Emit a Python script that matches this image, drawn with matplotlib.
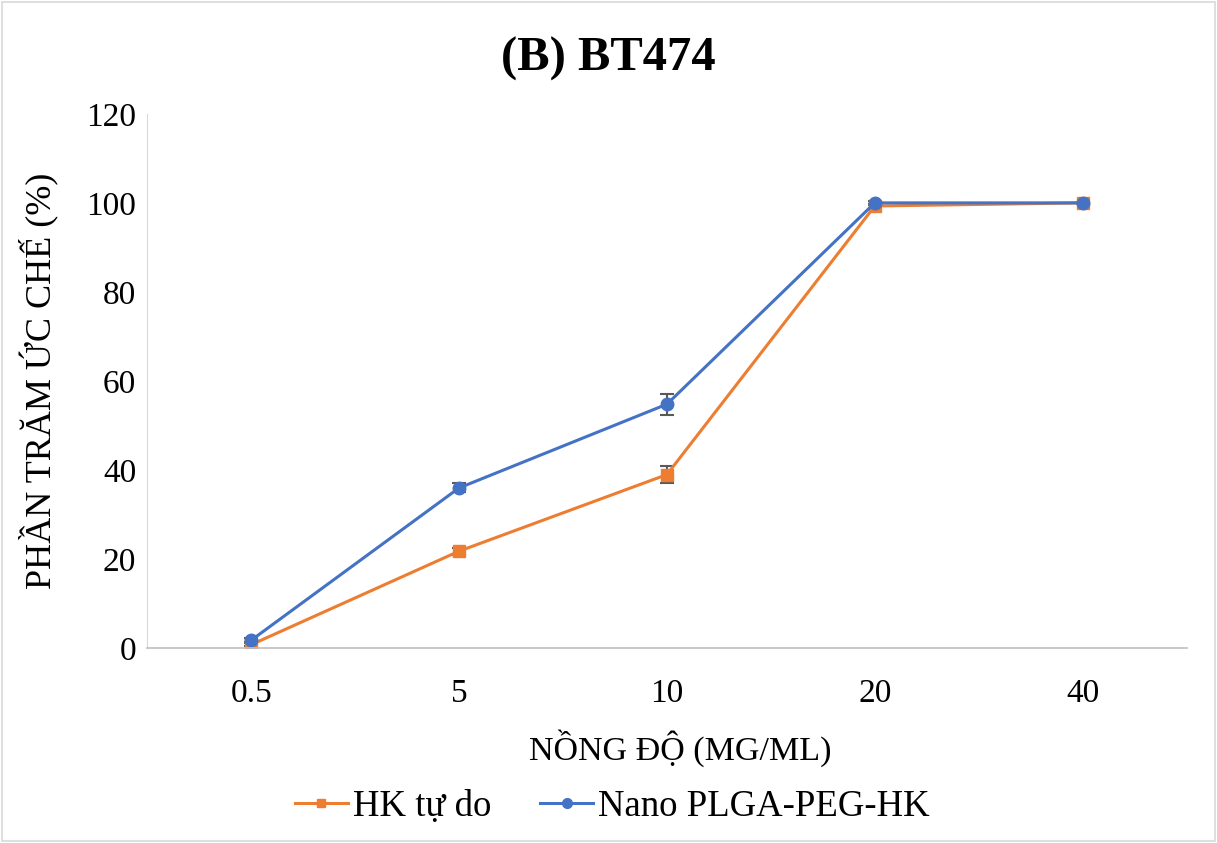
import numpy as np
import matplotlib.pyplot as plt
from matplotlib.lines import Line2D

plt.rcParams['font.family'] = ['Liberation Serif', 'DejaVu Serif']

conc = ['0.5', '5', '10', '20', '40']
hk_free = [0.8, 21.8, 39.0, 99.3, 100.0]
hk_free_err = [0.3, 0.8, 2.0, 0.5, 0.3]
nano = [1.8, 36.0, 54.8, 100.0, 100.0]
nano_err = [0.4, 1.0, 2.4, 0.4, 0.3]

orange = '#ED7D31'
blue = '#4472C4'

fig = plt.figure(figsize=(12.17, 8.43), dpi=100)
ax = fig.add_axes([0.121, 0.231, 0.854, 0.634])
x = np.arange(len(conc))

ax.errorbar(x, hk_free, yerr=hk_free_err, color=orange, lw=2.2, marker='s', ms=8,
            ecolor='#595959', elinewidth=1.5, capsize=5, capthick=1.5)
ax.errorbar(x, nano, yerr=nano_err, color=blue, lw=2.2, marker='o', ms=9,
            ecolor='#595959', elinewidth=1.5, capsize=5, capthick=1.5)

ax.set_xlim(-0.5, 4.5)
ax.set_ylim(0, 120)
ax.set_yticks(range(0, 121, 20))
ax.set_xticks(x)
ax.set_xticklabels(conc)
ax.tick_params(axis='both', labelsize=24, length=0)
ax.tick_params(axis='y', pad=8)
ax.tick_params(axis='x', pad=22)
for s in ['top', 'right']:
    ax.spines[s].set_visible(False)
ax.spines['left'].set_color('#d9d9d9')
ax.spines['bottom'].set_color('#bfbfbf')
ax.spines['bottom'].set_linewidth(1.2)

fig.text(0.5, 0.93, '(B) BT474', fontsize=35, fontweight='bold', ha='center', va='center')
ax.set_xlabel('NỒNG ĐỘ (MG/ML)', fontsize=24.5, labelpad=14)
ax.xaxis.label.set_x(0.513)
ax.set_ylabel('PHẦN TRĂM ỨC CHẾ (%)', fontsize=26, labelpad=20)

handles = [Line2D([], [], color=orange, lw=2.2, marker='s', ms=6),
           Line2D([], [], color=blue, lw=2.2, marker='o', ms=7)]
fig.legend(handles, ['HK tự do', 'Nano PLGA-PEG-HK'], loc='lower center',
           bbox_to_anchor=(0.503, 0.005), borderaxespad=0, ncol=2, frameon=False,
           fontsize=26.5, handlelength=1.45, handletextpad=0.13, columnspacing=1.33)

fig.patches.append(plt.Rectangle((0.002, 0.002), 0.996, 0.996, transform=fig.transFigure,
                                 fill=False, edgecolor='#d9d9d9', lw=1.2))

fig.savefig('out.png', dpi=100)
